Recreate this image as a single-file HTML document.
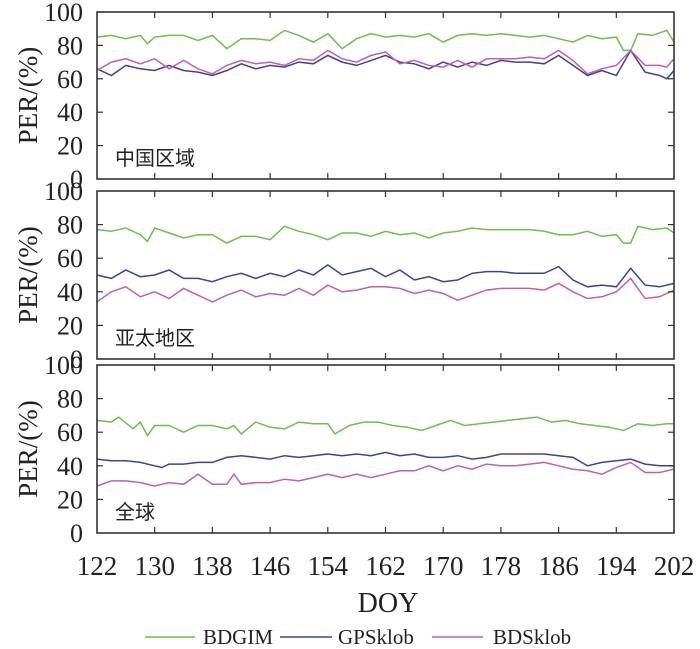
<!DOCTYPE html>
<html><head><meta charset="utf-8"><style>
html,body{margin:0;padding:0;background:#fff;}
svg{display:block;}
text{font-family:"Liberation Serif","Noto Serif CJK SC",serif;fill:#222;}
.cjk{font-family:"Liberation Serif","Noto Sans CJK SC",sans-serif;}
</style></head><body>
<svg id="s" width="700" height="649" viewBox="0 0 700 649" xmlns="http://www.w3.org/2000/svg"></svg>
<script>
const S=document.getElementById('s');
const X0=97,X1=674;
const xd=d=>X0+(d-122)*(X1-X0)/80;
let h='';
const panels=[
 {top:12,bot:179,label:'中国区域',
  g:[[122,85],[124,86],[126,84],[128,86],[129,81],[130,85],[132,86],[134,86],[136,83],[138,86],[140,78],[142,84],[144,84],[146,83],[148,89],[150,86],[152,82],[154,87],[156,78],[158,84],[160,87],[162,85],[164,86],[166,85],[168,87],[170,82],[172,86],[174,87],[176,86],[178,87],[180,86],[182,85],[184,86],[186,84],[188,82],[190,86],[192,84],[194,85],[195,77],[196,77],[197,87],[199,86],[201,89],[202,82]],
  b:[[122,66],[124,62],[126,68],[128,66],[130,65],[132,68],[134,65],[136,64],[138,62],[140,65],[142,69],[144,66],[146,68],[148,67],[150,70],[152,69],[154,74],[156,70],[158,68],[160,71],[162,74],[164,70],[166,69],[168,66],[170,70],[172,67],[174,70],[176,68],[178,71],[180,70],[182,70],[184,69],[186,74],[188,68],[190,62],[192,65],[194,62],[196,77],[198,64],[200,62],[201,60],[202,65]],
  p:[[122,65],[124,70],[126,72],[128,69],[130,72],[132,66],[134,71],[136,66],[138,63],[140,68],[142,71],[144,69],[146,70],[148,68],[150,72],[152,71],[154,77],[156,72],[158,70],[160,74],[162,76],[164,69],[166,71],[168,68],[170,67],[172,71],[174,67],[176,72],[178,72],[180,72],[182,73],[184,72],[186,77],[188,71],[190,63],[192,66],[194,68],[196,77],[198,68],[200,68],[201,67],[202,72]]},
 {top:191,bot:359,label:'亚太地区',
  g:[[122,77],[124,76],[126,78],[128,74],[129,70],[130,78],[132,75],[134,72],[136,74],[138,74],[140,69],[142,73],[144,73],[146,71],[148,79],[150,76],[152,74],[154,71],[156,75],[158,75],[160,73],[162,76],[164,74],[166,75],[168,72],[170,75],[172,76],[174,78],[176,77],[178,77],[180,77],[182,77],[184,76],[186,74],[188,74],[190,76],[192,73],[194,74],[195,69],[196,69],[197,79],[199,77],[201,78],[202,75]],
  b:[[122,50],[124,48],[126,53],[128,49],[130,50],[132,53],[134,48],[136,48],[138,46],[140,49],[142,51],[144,48],[146,51],[148,49],[150,53],[152,50],[154,56],[156,50],[158,52],[160,54],[162,49],[164,53],[166,47],[168,49],[170,46],[172,47],[174,51],[176,52],[178,52],[180,51],[182,51],[184,51],[186,55],[188,47],[190,43],[192,44],[194,43],[196,54],[198,44],[200,43],[202,45]],
  p:[[122,34],[124,40],[126,43],[128,37],[130,40],[132,36],[134,42],[136,38],[138,34],[140,38],[142,41],[144,37],[146,39],[148,38],[150,42],[152,38],[154,44],[156,40],[158,41],[160,43],[162,43],[164,42],[166,39],[168,41],[170,39],[172,35],[174,38],[176,41],[178,42],[180,42],[182,42],[184,41],[186,45],[188,40],[190,36],[192,37],[194,40],[196,48],[198,36],[200,37],[202,41]]},
 {top:365,bot:533,label:'全球',
  g:[[122,67],[124,66],[125,69],[127,62],[128,66],[129,58],[130,64],[132,64],[134,60],[136,64],[138,64],[140,62],[141,64],[142,59],[144,66],[146,63],[148,62],[150,66],[152,65],[154,65],[155,59],[157,64],[159,66],[161,66],[163,64],[165,63],[167,61],[169,64],[171,67],[173,64],[175,65],[177,66],[179,67],[181,68],[183,69],[185,66],[187,67],[189,65],[191,64],[193,63],[195,61],[197,65],[199,64],[201,65],[202,65]],
  b:[[122,44],[124,43],[126,43],[128,42],[130,40],[131,39],[132,41],[134,41],[136,42],[138,42],[140,45],[142,46],[144,45],[146,44],[148,46],[150,45],[152,46],[154,47],[156,46],[158,47],[160,46],[162,48],[164,46],[166,47],[168,45],[170,45],[172,46],[174,44],[176,45],[178,47],[180,47],[182,47],[184,47],[186,46],[188,45],[190,40],[192,42],[194,43],[196,44],[198,41],[200,40],[202,40]],
  p:[[122,28],[124,31],[126,31],[128,30],[130,28],[131,29],[132,30],[134,29],[136,35],[138,29],[140,29],[141,35],[142,29],[144,30],[146,30],[148,32],[150,31],[152,33],[154,35],[156,33],[158,35],[160,33],[162,35],[164,37],[166,37],[168,40],[170,37],[172,40],[174,38],[176,41],[178,40],[180,40],[182,41],[184,42],[186,40],[188,38],[190,37],[192,35],[194,39],[196,42],[198,36],[200,36],[202,38]]}
];
const cols={g:'#6cbf4a',b:'#40409a',p:'#c060aa'};
panels.forEach(P=>{
 const yv=v=>P.bot-(v/100)*(P.bot-P.top);
 for(const k of ['g','b','p']){
  h+=`<polyline fill="none" stroke="${cols[k]}" stroke-width="1.5" points="${P[k].map(q=>xd(q[0]).toFixed(1)+','+yv(q[1]).toFixed(1)).join(' ')}"/>`;
 }
 h+=`<rect x="${X0}" y="${P.top}" width="${X1-X0}" height="${P.bot-P.top}" fill="none" stroke="#333" stroke-width="1.6"/>`;
 for(let v=20;v<100;v+=20){const y=yv(v);h+=`<line x1="${X0}" y1="${y}" x2="${X0+6}" y2="${y}" stroke="#333" stroke-width="1.2"/><line x1="${X1}" y1="${y}" x2="${X1-6}" y2="${y}" stroke="#333" stroke-width="1.2"/>`;}
 for(let d=130;d<202;d+=8){const x=xd(d);h+=`<line x1="${x}" y1="${P.top}" x2="${x}" y2="${P.top+6}" stroke="#333" stroke-width="1.2"/><line x1="${x}" y1="${P.bot}" x2="${x}" y2="${P.bot-6}" stroke="#333" stroke-width="1.2"/>`;}
 for(let v=0;v<=100;v+=20){h+=`<text x="83" y="${yv(v)+9}" font-size="26" text-anchor="end">${v}</text>`;}
 const cy=(P.top+P.bot)/2;
 h+=`<text transform="translate(37,${cy}) rotate(-90)" font-size="27" text-anchor="middle">PER/(%)</text>`;
 h+=`<text class="cjk" x="115" y="${P.bot-14}" font-size="20">${P.label}</text>`;
});
for(let d=122;d<=202;d+=8){h+=`<text x="${xd(d)}" y="575" font-size="27" text-anchor="middle">${d}</text>`;}
h+=`<text x="388" y="612" font-size="28" text-anchor="middle">DOY</text>`;
h+=`<line x1="145" y1="637" x2="195" y2="637" stroke="${cols.g}" stroke-width="1.5"/><text x="203" y="644" font-size="21">BDGIM</text>`;
h+=`<line x1="280" y1="637" x2="332" y2="637" stroke="${cols.b}" stroke-width="1.5"/><text x="338" y="644" font-size="21">GPSklob</text>`;
h+=`<line x1="432" y1="637" x2="483" y2="637" stroke="${cols.p}" stroke-width="1.5"/><text x="493" y="644" font-size="21">BDSklob</text>`;
S.innerHTML=h;
</script>
</body></html>
